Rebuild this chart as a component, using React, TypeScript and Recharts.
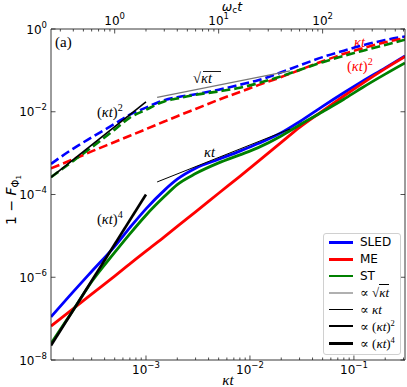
import { ComposedChart, Line, XAxis, YAxis } from 'recharts'

// κt sampling shared by the SLED / ME / ST curves
const kt = [1.22e-4, 2e-4, 3e-4, 5e-4, 7e-4, 1e-3, 1.5e-3, 2e-3, 3e-3, 5e-3, 8e-3, 1.2e-2, 2e-2, 3e-2, 5e-2, 8e-2, 0.12, 0.2, 0.31]

// solid curves (lower group)
const sledSolid = [1.1e-7, 4.5e-7, 1.38e-6, 5.6e-6, 1.58e-5, 4.5e-5, 1.26e-4, 2.34e-4, 4.3e-4, 7.1e-4, 1.12e-3, 1.7e-3, 3.1e-3, 5.75e-3, 1.35e-2, 2.88e-2, 5.4e-2, 0.115, 0.224]
const meSolid = [6.6e-8, 1.74e-7, 3.9e-7, 1.07e-6, 2.1e-6, 4.3e-6, 9.5e-6, 1.7e-5, 3.8e-5, 1.07e-4, 2.75e-4, 6.3e-4, 1.82e-3, 4.2e-3, 1.05e-2, 2.4e-2, 4.8e-2, 0.11, 0.214]
const stSolid = [2.5e-8, 1.62e-7, 7.8e-7, 3.98e-6, 1.12e-5, 3.16e-5, 8.9e-5, 1.74e-4, 3.2e-4, 5.8e-4, 9.1e-4, 1.36e-3, 2.6e-3, 4.8e-3, 1.0e-2, 2.0e-2, 3.8e-2, 8.1e-2, 0.151]

// dashed curves (upper group)
const sledDashed = [5.5e-4, 1.29e-3, 2.4e-3, 5.1e-3, 8.5e-3, 1.26e-2, 1.91e-2, 2.24e-2, 2.66e-2, 3.4e-2, 4.5e-2, 5.8e-2, 9.0e-2, 0.132, 0.209, 0.3, 0.4, 0.54, 0.66]
const meDashed = [4.3e-4, 7.1e-4, 1.1e-3, 1.86e-3, 2.63e-3, 3.8e-3, 5.8e-3, 7.8e-3, 1.17e-2, 1.95e-2, 3.0e-2, 4.4e-2, 6.9e-2, 0.102, 0.166, 0.251, 0.339, 0.479, 0.603]
const stDashed = [2.63e-4, 6.5e-4, 1.38e-3, 3.7e-3, 7.2e-3, 1.12e-2, 1.78e-2, 2.09e-2, 2.57e-2, 3.1e-2, 3.8e-2, 4.9e-2, 7.2e-2, 0.102, 0.158, 0.224, 0.295, 0.41, 0.55]

// power-law guide segments (end points)
const guideLateKt = [1.28e-3, 2.43e-2]
const sqrtGuide = [2.23e-2, 9.73e-2]
const linGuide = [2.01e-4, 3.83e-3]
const guideEarlyKt = [1.22e-4, 1e-3]
const quadGuide = [2.6e-4, 1.74e-2]
const quartGuide = [2.24e-8, 1e-4]

// axes
const ktDomain = [1.22e-4, 0.31]
const wctDomain = [0.244, 620]
const yDomain = [1e-8, 1]
const xMajor = [1e-3, 1e-2, 1e-1]
const xMinor = [2e-4, 3e-4, 4e-4, 5e-4, 6e-4, 7e-4, 8e-4, 9e-4, 2e-3, 3e-3, 4e-3, 5e-3, 6e-3, 7e-3, 8e-3, 9e-3, 2e-2, 3e-2, 4e-2, 5e-2, 6e-2, 7e-2, 8e-2, 9e-2, 0.2, 0.3]
const topMajor = [1, 10, 100]
const topMinor = [0.3, 0.4, 0.5, 0.6, 0.7, 0.8, 0.9, 2, 3, 4, 5, 6, 7, 8, 9, 20, 30, 40, 50, 60, 70, 80, 90, 200, 300, 400, 500, 600]
const yMajor = [1e-8, 1e-6, 1e-4, 1e-2, 1]

const BLUE = '#0000ff'
const RED = '#ff0000'
const GREEN = '#008000'
const SANS = '"DejaVu Sans", sans-serif'
const SERIF = '"Liberation Serif", "DejaVu Serif", serif'
const DASH = '9 4'

const data = kt.map((k, i) => ({
  kt: k,
  sledSolid: sledSolid[i], meSolid: meSolid[i], stSolid: stSolid[i],
  sledDashed: sledDashed[i], meDashed: meDashed[i], stDashed: stDashed[i],
}))
const pairs = (xs: number[], ys: number[]) => xs.map((x, i) => ({ kt: x, y: ys[i] }))
// invisible series so the secondary (top / right) axes get a scale
const frameAnchor = wctDomain.map((w, i) => ({ w, y: yDomain[i] }))

const isMajor = (v: number) => Math.abs(Math.log10(v) - Math.round(Math.log10(v))) < 1e-6
const expo = (v: number) => String(Math.round(Math.log10(v))).replace('-', '\u2212')

function Pow({ x, y, v, anchor }: { x: number; y: number; v: number; anchor: 'start' | 'middle' | 'end' }) {
  return (
    <text x={x} y={y} textAnchor={anchor} fontFamily={SANS} fontSize={12} fill="#000">
      10<tspan dy={-6} fontSize={8.5}>{expo(v)}</tspan>
    </text>
  )
}

function BottomTick(p: any) {
  const v = p.payload.value, major = isMajor(v)
  return (
    <g>
      <line x1={p.x} x2={p.x} y1={p.y} y2={p.y - (major ? 4.5 : 2.5)} stroke="#222" strokeWidth={0.8} />
      {major && <Pow x={p.x} y={p.y + 14} v={v} anchor="middle" />}
    </g>
  )
}

function TopTick(p: any) {
  const v = p.payload.value, major = isMajor(v)
  return (
    <g>
      <line x1={p.x} x2={p.x} y1={p.y} y2={p.y + (major ? 4.5 : 2.5)} stroke="#222" strokeWidth={0.8} />
      {major && <Pow x={p.x} y={p.y - 4} v={v} anchor="middle" />}
    </g>
  )
}

function LeftTick(p: any) {
  const v = p.payload.value
  return (
    <g>
      <line x1={p.x} x2={p.x + 4.5} y1={p.y} y2={p.y} stroke="#222" strokeWidth={0.8} />
      <Pow x={p.x - 4} y={p.y + 4.5} v={v} anchor="end" />
    </g>
  )
}

function RightTick(p: any) {
  return <line x1={p.x} x2={p.x - 4.5} y1={p.y} y2={p.y} stroke="#222" strokeWidth={0.8} />
}

function KappaT({ sup, color = '#000', x, y, size = 14.5 }: { sup?: string; color?: string; x: number; y: number; size?: number }) {
  return (
    <text x={x} y={y} fontFamily={SERIF} fontSize={size} fill={color}>
      {sup ? '(' : ''}<tspan fontStyle="italic">κt</tspan>{sup ? ')' : ''}
      {sup && <tspan dy={-6} fontSize={size * 0.7}>{sup}</tspan>}
    </text>
  )
}

interface LegendRowProps { color: string; width: number; children: any }
function LegendRow({ color, width, children }: LegendRowProps) {
  return (
    <div style={{ display: 'flex', alignItems: 'center', height: 16.8 }}>
      <span style={{ width: 24, height: width, background: color, marginLeft: 4.5, marginRight: 7.5 }} />
      <span style={{ fontSize: 12, color: '#000', whiteSpace: 'nowrap' }}>{children}</span>
    </div>
  )
}

function Prop({ sup, root }: { sup?: string; root?: boolean }) {
  return (
    <span style={{ fontFamily: SERIF, fontSize: 13 }}>
      ∝ {root ? <span>√<span style={{ borderTop: '1px solid #000', fontStyle: 'italic' }}>κt</span></span>
        : sup ? <span>(<i>κt</i>)<sup style={{ fontSize: 8.5 }}>{sup}</sup></span> : <i>κt</i>}
    </span>
  )
}

function ChartLegend() {
  return (
    <div style={{
      position: 'absolute', left: 323, top: 233, width: 78, height: 122, boxSizing: 'border-box',
      border: '1px solid #d0d0d0', borderRadius: 3, background: 'rgba(255,255,255,0.85)', fontFamily: SANS,
    }}>
      <LegendRow color={BLUE} width={2.8}>SLED</LegendRow>
      <LegendRow color={RED} width={2.8}>ME</LegendRow>
      <LegendRow color={GREEN} width={2.8}>ST</LegendRow>
      <LegendRow color="#b0b0b0" width={2}><Prop root /></LegendRow>
      <LegendRow color="#000" width={1}><Prop /></LegendRow>
      <LegendRow color="#000" width={1.8}><Prop sup="2" /></LegendRow>
      <LegendRow color="#000" width={2.8}><Prop sup="4" /></LegendRow>
    </div>
  )
}

export default function App() {
  return (
    <div style={{ position: 'absolute', left: 0, top: 0, width: 407, height: 387, background: '#fff' }}>
      <ComposedChart width={407} height={387} data={data} margin={{ top: 0, right: 0, bottom: 0, left: 0 }}>
        <XAxis xAxisId="b" dataKey="kt" type="number" scale="log" domain={ktDomain} allowDataOverflow
          ticks={[...xMinor, ...xMajor]} interval={0} tick={<BottomTick />} tickLine={false} tickSize={0} tickMargin={0}
          height={27} axisLine={{ stroke: '#222', strokeWidth: 0.9 }} />
        <XAxis xAxisId="t" dataKey="w" orientation="top" type="number" scale="log" domain={wctDomain} allowDataOverflow
          ticks={[...topMinor, ...topMajor]} interval={0} tick={<TopTick />} tickLine={false} tickSize={0} tickMargin={0}
          height={29} axisLine={{ stroke: '#222', strokeWidth: 0.9 }} />
        <YAxis yAxisId="l" type="number" scale="log" domain={yDomain} allowDataOverflow
          ticks={yMajor} interval={0} tick={<LeftTick />} tickLine={false} tickSize={0} tickMargin={0}
          width={51} axisLine={{ stroke: '#222', strokeWidth: 0.9 }} />
        <YAxis yAxisId="r" orientation="right" type="number" scale="log" domain={yDomain} allowDataOverflow
          ticks={yMajor} interval={0} tick={<RightTick />} tickLine={false} tickSize={0} tickMargin={0}
          width={2} axisLine={{ stroke: '#222', strokeWidth: 0.9 }} />

        <Line xAxisId="t" yAxisId="r" data={frameAnchor} dataKey="y" stroke="transparent" strokeWidth={0} dot={false} activeDot={false} isAnimationActive={false} />

        <Line xAxisId="b" yAxisId="l" dataKey="sledSolid" type="monotone" stroke={BLUE} strokeWidth={2.8} dot={false} activeDot={false} isAnimationActive={false} />
        <Line xAxisId="b" yAxisId="l" dataKey="sledDashed" type="monotone" stroke={BLUE} strokeWidth={2.6} strokeDasharray={DASH} dot={false} activeDot={false} isAnimationActive={false} />
        <Line xAxisId="b" yAxisId="l" dataKey="meSolid" type="monotone" stroke={RED} strokeWidth={2.8} dot={false} activeDot={false} isAnimationActive={false} />
        <Line xAxisId="b" yAxisId="l" dataKey="meDashed" type="monotone" stroke={RED} strokeWidth={2.6} strokeDasharray={DASH} dot={false} activeDot={false} isAnimationActive={false} />
        <Line xAxisId="b" yAxisId="l" dataKey="stSolid" type="monotone" stroke={GREEN} strokeWidth={2.8} dot={false} activeDot={false} isAnimationActive={false} />
        <Line xAxisId="b" yAxisId="l" dataKey="stDashed" type="monotone" stroke={GREEN} strokeWidth={2.6} strokeDasharray={DASH} dot={false} activeDot={false} isAnimationActive={false} />

        <Line xAxisId="b" yAxisId="l" data={pairs(guideLateKt, sqrtGuide)} dataKey="y" type="linear" stroke="#777" strokeWidth={1.1} dot={false} activeDot={false} isAnimationActive={false} />
        <Line xAxisId="b" yAxisId="l" data={pairs(guideLateKt, linGuide)} dataKey="y" type="linear" stroke="#000" strokeWidth={1} dot={false} activeDot={false} isAnimationActive={false} />
        <Line xAxisId="b" yAxisId="l" data={pairs(guideEarlyKt, quadGuide)} dataKey="y" type="linear" stroke="#000" strokeWidth={1.6} dot={false} activeDot={false} isAnimationActive={false} />
        <Line xAxisId="b" yAxisId="l" data={pairs(guideEarlyKt, quartGuide)} dataKey="y" type="linear" stroke="#000" strokeWidth={2.6} dot={false} activeDot={false} isAnimationActive={false} />

        {/* annotations */}
        <text x={55} y={47} fontFamily={SERIF} fontSize={15} fill="#000">(a)</text>
        <KappaT x={97} y={117} sup="2" />
        <KappaT x={97} y={224} sup="4" />
        <KappaT x={204} y={157} />
        <text x={193} y={83} fontFamily={SERIF} fontSize={14.5} fill="#000">√<tspan fontStyle="italic">κt</tspan></text>
        <line x1={203} x2={221} y1={71.5} y2={71.5} stroke="#000" strokeWidth={0.9} />
        <KappaT x={354} y={47} color={RED} />
        <KappaT x={347} y={71} sup="2" color={RED} />

        {/* axis titles */}
        <text x={232} y={11} textAnchor="middle" fontFamily={SANS} fontSize={12.5} fill="#000">
          <tspan fontStyle="italic">ω</tspan><tspan fontSize={9} dy={1.5}>c</tspan><tspan fontStyle="italic" dy={-1.5}>t</tspan>
        </text>
        <text x={228} y={385} textAnchor="middle" fontFamily={SERIF} fontSize={15} fontStyle="italic" fill="#000">κt</text>
        <text transform="translate(16,200) rotate(-90)" textAnchor="middle" fontFamily={SANS} fontSize={14} fill="#000">
          1 − <tspan fontStyle="italic">F</tspan><tspan fontSize={10} dy={3}>Φ</tspan><tspan fontSize={7} dy={2}>1</tspan>
        </text>
      </ComposedChart>
      <ChartLegend />
    </div>
  )
}
